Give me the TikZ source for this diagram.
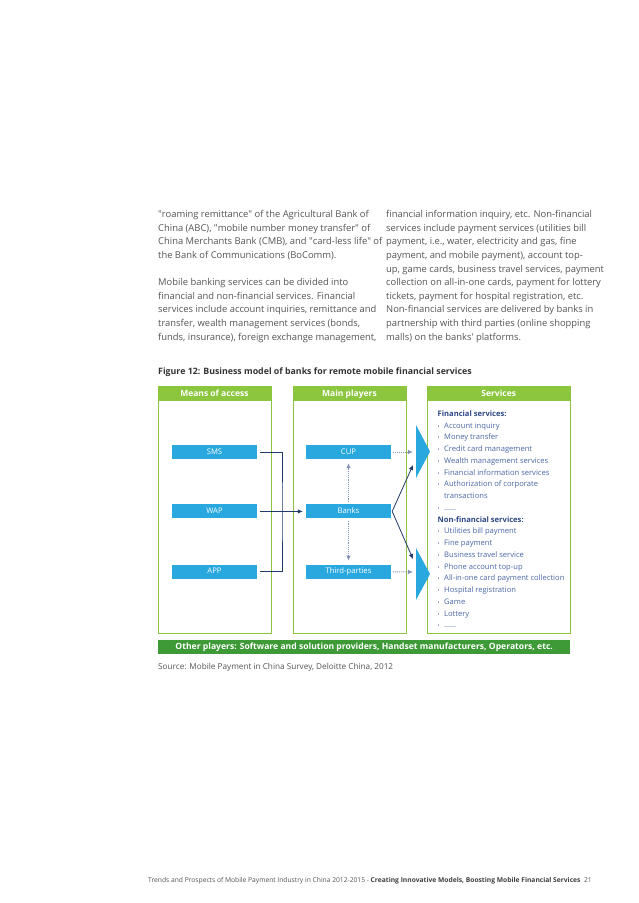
\documentclass[tikz,border=0pt]{standalone}
\usepackage{fontspec}
\setmainfont{Open Sans}
\usetikzlibrary{arrows.meta,positioning,calc}
\definecolor{dlime}{HTML}{8CC63F}
\definecolor{dgreen}{HTML}{3E9A36}
\definecolor{dblue}{HTML}{29A8E0}
\definecolor{dnavy}{HTML}{1F3A6B}
\definecolor{dtext}{HTML}{555555}
\definecolor{dserv}{HTML}{4A67A6}
\definecolor{dhead}{HTML}{2B4785}
\definecolor{ddot}{HTML}{8391B8}
\newcommand\srvitem[1]{\makebox[6.5pt][l]{\scalebox{0.7}{\textbullet}}#1}
\newcommand\dq{\textquotedbl}
\tikzset{
  colframe/.style = {draw=dlime, line width=0.8pt, anchor=north west,
                     minimum height=247, inner sep=0pt},
  colhead/.style  = {fill=dlime, text=white, anchor=north west, inner sep=0pt,
                     minimum height=15, text height=6.2pt, text depth=1.6pt,
                     font=\bfseries\fontsize{8.5}{9}\selectfont},
  player/.style   = {fill=dblue, text=white, minimum width=85, minimum height=14,
                     inner sep=0pt, text height=5.8pt, text depth=1.5pt,
                     font=\fontsize{7.7}{8}\selectfont},
  link/.style     = {dnavy, line width=0.8pt},
  arr/.style      = {-{Latex[length=5pt,width=4.5pt]}, dnavy, line width=0.8pt},
  dotarr/.style   = {-{Latex[length=5pt,width=4.5pt]}, ddot, densely dotted, line width=0.9pt},
  chevron/.style  = {fill=dblue},
  bodytext/.style = {anchor=north west, inner sep=0pt, align=left, text=dtext,
                     font=\fontsize{9.4}{13.6}\selectfont},
}

\begin{document}
\begin{tikzpicture}[x=1pt, y=-1pt]
\useasboundingbox[fill=white] (0,0) rectangle (638,903);
% ---- running text ----
\node[bodytext] (leftcol) at (158,210.3)
  {\dq roaming remittance\dq{} of the Agricultural Bank of\\
   China (ABC), \dq mobile number money transfer\dq{} of\\
   China Merchants Bank (CMB), and \dq card-less life\dq{} of\\
   the Bank of Communications (BoComm).\\[13.6pt]
   Mobile banking services can be divided into\\
   financial and non-financial services. Financial\\
   services include account inquiries, remittance and\\
   transfer, wealth management services (bonds,\\
   funds, insurance), foreign exchange management,};
\node[bodytext] (rightcol) at (386,210.3)
  {financial information inquiry, etc. Non-financial\\
   services include payment services (utilities bill\\
   payment, i.e., water, electricity and gas, fine\\
   payment, and mobile payment), account top-\\
   up, game cards, business travel services, payment\\
   collection on all-in-one cards, payment for lottery\\
   tickets, payment for hospital registration, etc.\\
   Non-financial services are delivered by banks in\\
   partnership with third parties (online shopping\\
   malls) on the banks\textquotesingle{} platforms.};
\node[anchor=west, inner sep=0pt, text=black!80, font=\bfseries\fontsize{8.8}{10}\selectfont]
  (figtitle) at (158,372)
  {Figure 12: Business model of banks for remote mobile financial services};
% ---- three columns ----
\node[colframe, minimum width=112.5] (accbox) at (158,386) {};
\node[colhead, minimum width=112.5] (acchead) at (accbox.north west) {Means of access};
\node[colframe, minimum width=113.5] (plybox) at (292.5,386) {};
\node[colhead, minimum width=113.5] (plyhead) at (plybox.north west) {Main players};
\node[colframe, minimum width=143] (srvbox) at (427,386) {};
\node[colhead, minimum width=143] (srvhead) at (srvbox.north west) {Services};
% ---- access channels and players ----
\node[player] (sms) at (214.5,452) {SMS};
\node[player, below=45pt of sms] (wap) {WAP};
\node[player, below=46pt of wap] (app) {APP};
\node[player] (cup) at (348.5,452) {CUP};
\node[player, below=45pt of cup] (banks) {Banks};
\node[player, below=46pt of banks] (third) {Third-parties};
\coordinate (bus) at (282,511.5);
\draw[link] ([xshift=3pt]sms.east) -| (bus) |- ([xshift=3pt]app.east);
\draw[arr] ([xshift=3pt]wap.east) -- ([xshift=-3pt]banks.west);
\draw[dotarr] ([yshift=2pt]banks.north) -- ([yshift=-4pt]cup.south);
\draw[dotarr] ([yshift=-2pt]banks.south) -- ([yshift=4pt]third.north);
% ---- chevrons into services ----
\fill[chevron] (416,425) -- (430,451.5) -- (416,478) -- cycle;
\fill[chevron] (416,548) -- (430,574) -- (416,600) -- cycle;
\coordinate (finA) at (413,452);
\coordinate (finB) at (413,465);
\coordinate (nfinA) at (413,559);
\coordinate (nfinB) at (413,572);
\draw[dotarr] ([xshift=2pt]cup.east) -- (finA);
\draw[dotarr] ([xshift=2pt]third.east) -- (nfinB);
\draw[arr] ([xshift=1pt]banks.east) -- (finB);
\draw[arr] ([xshift=1pt]banks.east) -- (nfinA);
% ---- services list ----
\node[anchor=north west, inner sep=0pt, align=left, text=dserv,
      font=\fontsize{7.6}{11.75}\selectfont] (srvlist) at (437.5,410.5)
  {\textcolor{dhead}{\bfseries Financial services:}\\
   \srvitem{Account inquiry}\\
   \srvitem{Money transfer}\\
   \srvitem{Credit card management}\\
   \srvitem{Wealth management services}\\
   \srvitem{Financial information services}\\
   \srvitem{Authorization of corporate}\\
   \hspace*{6.5pt}transactions\\
   \srvitem{……}\\
   \textcolor{dhead}{\bfseries Non-financial services:}\\
   \srvitem{Utilities bill payment}\\
   \srvitem{Fine payment}\\
   \srvitem{Business travel service}\\
   \srvitem{Phone account top-up}\\
   \srvitem{All-in-one card payment collection}\\
   \srvitem{Hospital registration}\\
   \srvitem{Game}\\
   \srvitem{Lottery}\\
   \srvitem{……}};
% ---- other players bar and source ----
\node[fill=dgreen, text=white, anchor=north west, inner sep=0pt, minimum width=412,
      minimum height=14.5, text height=6.2pt, text depth=1.6pt,
      font=\bfseries\fontsize{8.6}{9}\selectfont] (others) at (158,639.5)
  {Other players: Software and solution providers, Handset manufacturers, Operators, etc.};
\node[anchor=west, inner sep=0pt, text=dtext, font=\fontsize{8.2}{9}\selectfont]
  (source) at (158,667) {Source: Mobile Payment in China Survey, Deloitte China, 2012};
% ---- page footer ----
\node[anchor=west, inner sep=0pt, text=dtext, font=\fontsize{6.7}{8}\selectfont]
  (footer) at (148,881)
  {Trends and Prospects of Mobile Payment Industry in China 2012-2015 -
   {\bfseries\color{black!75}Creating Innovative Models, Boosting Mobile Financial Services}\ \ 21};
\end{tikzpicture}
\end{document}
